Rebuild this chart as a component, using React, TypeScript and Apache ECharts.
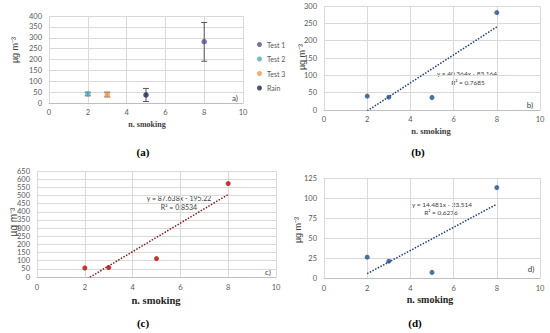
import React, { useEffect, useRef } from "react";
import * as echarts from "echarts";

// Panel (a)
const aNames = ["Test 1", "Test 2", "Test 3", "Rain"];
const aColors = ["#5f4b8b", "#4bacc6", "#f79646", "#1b2a4a"];
const aX = [8, 2, 3, 5];
const aMean = [282, 42, 38, 37];
const aLow = [192, 33, 28, 7];
const aHigh = [370, 50, 50, 67];

// Panels (b), (c), (d)
const nSmoking = [2, 3, 5, 8];
const bValues = [40, 37, 36, 281];
const cValues = [55, 58, 113, 573];
const dValues = [26, 21, 7, 113];

// Trendline coefficients [slope, intercept] and labels
const bFit = [40.364, -83.164];
const cFit = [87.638, -195.22];
const dFit = [14.481, -23.514];
const bEq = ["y = 40.364x - 83.164", "R² = 0.7685"];
const cEq = ["y = 87.638x - 195.22", "R² = 0.8534"];
const dEq = ["y = 14.481x - 23.514", "R² = 0.6276"];

const xTicks = [0, 10, 2];
const yTicksA = [0, 400, 50];
const yTicksB = [0, 300, 50];
const yTicksC = [0, 650, 50];
const yTicksD = [0, 125, 25];

const TICK_FONT = "Lato, 'Liberation Sans', sans-serif";
const SERIF = "'Liberation Serif', 'DejaVu Serif', serif";

export default function App() {
  const ref = useRef<HTMLDivElement>(null);
  useEffect(() => {
    if (!ref.current) return;
    const chart = echarts.init(ref.current, undefined, { renderer: "svg" });

    const grids = [
      { left: 49, top: 16, width: 194, height: 87 },
      { left: 324, top: 6, width: 216, height: 104 },
      { left: 37, top: 171, width: 239, height: 106 },
      { left: 324, top: 178, width: 216, height: 100 },
    ];
    const yTicks = [yTicksA, yTicksB, yTicksC, yTicksD];

    const xAxis = grids.map((_, i) => ({
      type: "value" as const,
      gridIndex: i,
      min: xTicks[0],
      max: xTicks[1],
      interval: xTicks[2],
      axisLine: { show: true, lineStyle: { color: "#bfbfbf", width: 1 } },
      axisTick: { show: false },
      axisLabel: { fontSize: 7.5, color: "#595959", fontFamily: TICK_FONT, margin: i >= 2 ? 6 : 5 },
      splitLine: { show: true, lineStyle: { color: "#d9d9d9", width: 1 } },
    }));
    const yAxis = grids.map((_, i) => ({
      type: "value" as const,
      gridIndex: i,
      min: yTicks[i][0],
      max: yTicks[i][1],
      interval: yTicks[i][2],
      axisLine: { show: false },
      axisTick: { show: false },
      axisLabel: { fontSize: 7.5, color: "#595959", fontFamily: TICK_FONT, margin: 7 },
      splitLine: { show: true, lineStyle: { color: "#d9d9d9", width: 1 } },
    }));

    const series: any[] = [];
    // panel a: error bars
    series.push({
      type: "custom",
      xAxisIndex: 0,
      yAxisIndex: 0,
      data: aX.map((x, i) => [x, aLow[i], aHigh[i], i]),
      encode: { x: 0, y: [1, 2] },
      z: 1,
      renderItem: (params: any, api: any) => {
        const x = api.value(0);
        const p1 = api.coord([x, api.value(1)]);
        const p2 = api.coord([x, api.value(2)]);
        const c = "#595959";
        const w = 3;
        return {
          type: "group",
          children: [
            { type: "line", shape: { x1: p1[0], y1: p1[1], x2: p2[0], y2: p2[1] }, style: { stroke: c, lineWidth: 1 } },
            { type: "line", shape: { x1: p1[0] - w, y1: p1[1], x2: p1[0] + w, y2: p1[1] }, style: { stroke: c, lineWidth: 1 } },
            { type: "line", shape: { x1: p2[0] - w, y1: p2[1], x2: p2[0] + w, y2: p2[1] }, style: { stroke: c, lineWidth: 1 } },
          ],
        };
      },
    });
    aNames.forEach((n, i) => {
      series.push({
        type: "scatter",
        name: n,
        xAxisIndex: 0,
        yAxisIndex: 0,
        symbol: "circle",
        symbolSize: 5.5,
        itemStyle: { color: aColors[i] },
        data: [[aX[i], aMean[i]]],
        z: 3,
      });
    });

    const fitPanels = [
      { idx: 1, vals: bValues, fit: bFit, color: "#1f4e8c", line: "#1f3d7a" },
      { idx: 2, vals: cValues, fit: cFit, color: "#c00000", line: "#8b1a1a" },
      { idx: 3, vals: dValues, fit: dFit, color: "#1f4e8c", line: "#1f3d7a" },
    ];
    fitPanels.forEach((p) => {
      const x0 = nSmoking[0];
      const x1 = nSmoking[nSmoking.length - 1];
      series.push({
        type: "line",
        xAxisIndex: p.idx,
        yAxisIndex: p.idx,
        data: [
          [x0, p.fit[0] * x0 + p.fit[1]],
          [x1, p.fit[0] * x1 + p.fit[1]],
        ],
        showSymbol: false,
        symbol: "none",
        clip: true,
        lineStyle: { color: p.line, width: 1.5, type: [1.5, 1.5] },
        z: 2,
      });
      series.push({
        type: "scatter",
        xAxisIndex: p.idx,
        yAxisIndex: p.idx,
        symbol: "circle",
        symbolSize: 5,
        itemStyle: { color: p.color },
        data: nSmoking.map((x, i) => [x, p.vals[i]]),
        z: 3,
      });
    });

    const txt = (x: number, y: number, text: string, font: string, fill: string, extra: any = {}) => ({
      type: "text",
      x,
      y,
      ...extra,
      style: { text, font, fill, align: "center", verticalAlign: "middle" },
    });

    const graphic: any[] = [
      // y titles
      txt(15, 50, "µg m⁻³", `9px 'Liberation Sans', sans-serif`, "#404040", { rotation: Math.PI / 2 }),
      txt(302, 57, "µg m⁻³", `9px 'Liberation Sans', sans-serif`, "#404040", { rotation: Math.PI / 2 }),
      txt(13, 222, "µg m⁻³", `10px 'Liberation Sans', sans-serif`, "#404040", { rotation: Math.PI / 2 }),
      txt(298, 230, "µg m⁻³", `9px 'Liberation Sans', sans-serif`, "#404040", { rotation: Math.PI / 2 }),
      // x titles
      txt(147, 124, "n. smoking", `bold 8px ${SERIF}`, "#404040"),
      txt(431, 131, "n. smoking", `bold 8.5px ${SERIF}`, "#404040"),
      txt(156, 300, "n. smoking", `bold 10.5px ${SERIF}`, "#262626"),
      txt(430, 299, "n. smoking", `bold 10px ${SERIF}`, "#262626"),
      // panel captions
      txt(143, 152, "(a)", `bold 11px ${SERIF}`, "#000"),
      txt(418, 152, "(b)", `bold 11px ${SERIF}`, "#000"),
      txt(143, 323, "(c)", `bold 11px ${SERIF}`, "#000"),
      txt(415, 323, "(d)", `bold 11px ${SERIF}`, "#000"),
      // inner labels
      txt(235, 98, "a)", `8px ${TICK_FONT}`, "#404040"),
      txt(530, 105, "b)", `8px ${TICK_FONT}`, "#404040"),
      txt(268, 272, "c)", `8px ${TICK_FONT}`, "#404040"),
      txt(531, 269, "d)", `8px ${TICK_FONT}`, "#404040"),
      // equations
      txt(467, 73, bEq[0], `6.5px ${TICK_FONT}`, "#404040"),
      txt(468, 82, bEq[1], `6.5px ${TICK_FONT}`, "#404040"),
      txt(179, 198, cEq[0], `7px ${TICK_FONT}`, "#404040"),
      txt(179, 207, cEq[1], `7px ${TICK_FONT}`, "#404040"),
      txt(442, 204, dEq[0], `6.5px ${TICK_FONT}`, "#404040"),
      txt(441, 212, dEq[1], `6.5px ${TICK_FONT}`, "#404040"),
    ];

    chart.setOption({
      animation: false,
      backgroundColor: "#fff",
      grid: grids.map((g) => ({ ...g, containLabel: false })),
      xAxis,
      yAxis,
      legend: {
        data: aNames,
        orient: "vertical",
        left: 252,
        top: 35,
        icon: "circle",
        itemWidth: 5,
        itemHeight: 5,
        itemGap: 5.5,
        textStyle: { fontSize: 7, color: "#595959", fontFamily: TICK_FONT, lineHeight: 9 },
      },
      series,
      graphic,
    });
    return () => chart.dispose();
  }, []);
  return <div ref={ref} style={{ position: "fixed", left: 0, top: 0, width: 550, height: 333 }} />;
}
